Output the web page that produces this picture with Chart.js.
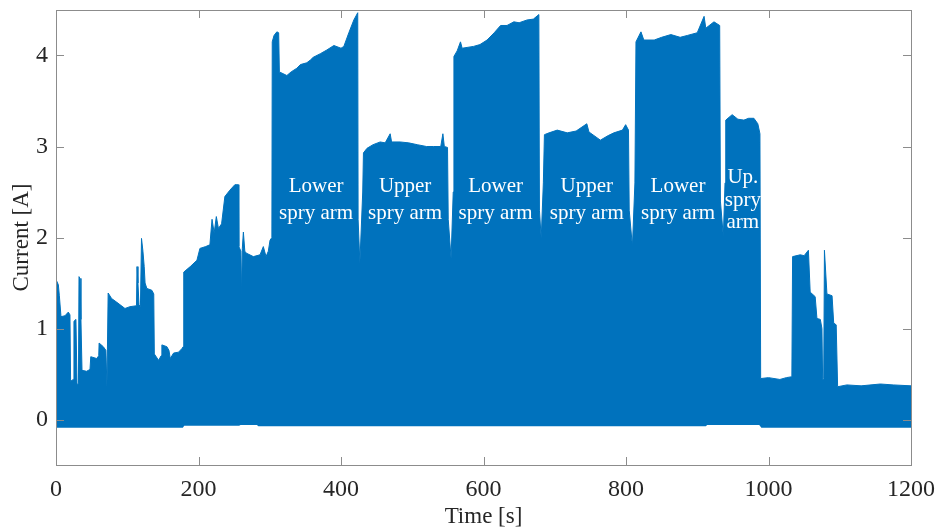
<!DOCTYPE html>
<html>
<head>
<meta charset="utf-8">
<script src="https://cdn.jsdelivr.net/npm/chart.js@4.4.1/dist/chart.umd.min.js"></script>
<style>
  html, body { margin: 0; padding: 0; background: #fff; }
  canvas { display: block; }
</style>
</head>
<body>
<canvas id="currentChart" width="937" height="531"></canvas>
<script>
// upper edge of the current trace, [time s, current A]
const upperEdge = [
  [0, 1.00], [0.5, 1.53], [3.3, 1.48], [4.7, 1.36], [7, 1.13], [12.6, 1.14], [17.3, 1.18], [19.6, 1.15],
  [20.5, 0.42], [24.3, 0.44], [25.2, 1.08], [28, 1.10], [29.5, 0.38], [31.5, 0.40], [32.3, 1.57], [33.7, 1.55],
  [35, 1.10], [36.5, 0.54], [43, 0.53], [47.7, 0.55], [48.8, 0.69], [57, 0.67], [60, 0.70], [60.5, 0.84],
  [66.4, 0.80], [70, 0.76], [71.5, 0.36], [73.2, 1.39], [78, 1.33], [85, 1.29], [96.8, 1.22], [103.8, 1.24],
  [113, 1.25], [113.7, 1.68], [115, 1.50], [116.5, 1.26], [118.5, 1.24], [120, 1.99], [122, 1.85], [123.8, 1.68],
  [125, 1.50], [127.5, 1.44], [134.5, 1.42], [137.2, 1.38], [138, 0.72], [144, 0.65], [147.5, 0.70], [148.6, 0.82],
  [155.6, 0.80], [158.5, 0.76], [160.4, 0.67], [165, 0.73], [172, 0.74], [176.8, 0.78], [178.5, 0.80], [179.3, 1.62],
  [188.4, 1.68], [197.8, 1.75], [202, 1.88], [210, 1.90], [216, 1.92], [219, 2.20], [222, 2.05], [225, 2.23],
  [228, 2.10], [232.4, 2.15], [237, 2.45], [244, 2.52], [251, 2.58], [256, 2.58], [256.6, 1.90], [259.5, 1.85],
  [260.5, 1.37], [261.5, 1.88], [263, 2.06], [265, 1.85], [266.7, 1.83], [277, 1.79], [286.4, 1.81], [291, 1.90],
  [294.8, 1.79], [298, 1.85], [300.4, 1.97], [303, 2.00], [303.5, 4.15], [306, 4.22], [310, 4.26], [312.5, 4.25],
  [313.5, 3.82], [324, 3.78], [330, 3.82], [338, 3.86], [343, 3.90], [352, 3.92], [357, 3.95], [361, 3.98],
  [371, 4.02], [380, 4.06], [390, 4.11], [400, 4.08], [404, 4.10], [411, 4.25], [418, 4.39], [423.5, 4.47],
  [424, 2.20], [426.5, 1.72], [430.5, 2.50], [431.5, 2.93], [436.5, 2.98], [445, 3.02], [455, 3.05], [462, 3.04],
  [469, 3.14], [471, 3.05], [483, 3.05], [495, 3.04], [507, 3.02], [520, 3.00], [530, 3.00], [540, 3.00],
  [543, 3.14], [545, 3.00], [549.5, 2.99], [550.5, 2.20], [554.5, 1.77], [557.5, 2.50], [558.5, 3.99], [563, 4.05],
  [567.7, 4.15], [570, 4.08], [586, 4.10], [595, 4.12], [605, 4.17], [615, 4.25], [624, 4.33], [633, 4.33],
  [642.6, 4.37], [650, 4.36], [661, 4.39], [670, 4.40], [677.7, 4.45], [678.5, 2.30], [681, 1.99], [684, 2.60],
  [685.5, 3.13], [692, 3.15], [703.5, 3.18], [717.6, 3.15], [730, 3.17], [745, 3.25], [748, 3.16], [764, 3.07],
  [775, 3.12], [783, 3.15], [795, 3.18], [799.5, 3.24], [803.5, 3.18], [804.5, 2.30], [809, 1.90], [812.5, 2.60],
  [814, 4.15], [821, 4.26], [825, 4.17], [839.6, 4.17], [850, 4.20], [863, 4.23], [876, 4.20], [886, 4.22],
  [900, 4.25], [909.6, 4.43], [912, 4.30], [923.5, 4.37], [931.5, 4.33], [932.5, 2.40], [936.6, 2.01], [939, 2.60],
  [940, 3.29], [949, 3.35], [957, 3.30], [965.5, 3.29], [972, 3.31], [979.5, 3.31], [985, 3.25], [988, 3.14],
  [989, 0.45], [1000, 0.46], [1016, 0.44], [1025, 0.46], [1032.8, 0.47], [1033.8, 1.79], [1044.6, 1.81], [1050, 1.80],
  [1056, 1.86], [1058.5, 1.40], [1065.5, 1.35], [1068, 1.11], [1072.7, 1.10], [1075, 1.00], [1076, 0.43], [1077.5, 0.45],
  [1078.5, 1.86], [1082, 1.38], [1089.2, 1.36], [1091.5, 1.06], [1095, 1.04], [1097, 0.36], [1110, 0.38], [1130, 0.37],
  [1157, 0.39], [1175, 0.38], [1200, 0.37]
];

// lower edge of the trace (just under zero)
const lowerEdge = [
  [0, -0.09], [178, -0.09], [180, -0.07], [257, -0.07], [259, -0.06], [282, -0.06], [284, -0.075],
  [912, -0.075], [914, -0.06], [987, -0.06], [990, -0.09], [1200, -0.09]
];

const xTicks = [0, 200, 400, 600, 800, 1000, 1200];
const yTicks = [0, 1, 2, 3, 4];

// phase labels: lines of text and where they sit (time, current)
const phaseLines = [
  ['Lower', 'spry arm'],
  ['Upper', 'spry arm'],
  ['Lower', 'spry arm'],
  ['Upper', 'spry arm'],
  ['Lower', 'spry arm'],
  ['Up.', 'spry', 'arm']
];
const phaseTime = [365, 490, 617, 745, 873, 964];
const phaseTop = [2.56, 2.56, 2.56, 2.56, 2.56, 2.66];
const phaseStep = [0.30, 0.30, 0.30, 0.30, 0.30, 0.25];

const serif = "'Liberation Serif', 'Times New Roman', serif";
const blue = '#0072BD';
const ink = '#262626';

const frame = {
  id: 'frame',
  afterDraw(chart) {
    const { ctx, chartArea: a, scales } = chart;
    ctx.save();
    ctx.strokeStyle = '#8c8c8c';
    ctx.lineWidth = 1;
    ctx.strokeRect(Math.round(a.left) + 0.5, Math.round(a.top) + 0.5,
      Math.round(a.right - a.left), Math.round(a.bottom - a.top));
    ctx.beginPath();
    xTicks.forEach(v => {
      const x = Math.round(scales.x.getPixelForValue(v)) + 0.5;
      ctx.moveTo(x, a.bottom); ctx.lineTo(x, a.bottom - 8);
      ctx.moveTo(x, a.top); ctx.lineTo(x, a.top + 8);
    });
    yTicks.forEach(v => {
      const y = Math.round(scales.y.getPixelForValue(v)) + 0.5;
      ctx.moveTo(a.left, y); ctx.lineTo(a.left + 8, y);
      ctx.moveTo(a.right, y); ctx.lineTo(a.right - 8, y);
    });
    ctx.stroke();

    // white phase labels
    ctx.fillStyle = '#fff';
    ctx.font = '21px ' + serif;
    ctx.textAlign = 'center';
    ctx.textBaseline = 'middle';
    phaseLines.forEach((lines, i) => {
      const x = scales.x.getPixelForValue(phaseTime[i]);
      lines.forEach((txt, j) => {
        const y = scales.y.getPixelForValue(phaseTop[i] - j * phaseStep[i]);
        ctx.fillText(txt, x, y);
      });
    });
    ctx.restore();
  }
};

new Chart(document.getElementById('currentChart').getContext('2d'), {
  type: 'line',
  data: {
    datasets: [
      {
        // white below the lower edge
        data: lowerEdge.map(p => ({ x: p[0], y: p[1] })),
        borderWidth: 0,
        borderColor: '#fff',
        backgroundColor: '#fff',
        pointRadius: 0,
        tension: 0,
        fill: 'start'
      },
      {
        label: 'Current',
        data: upperEdge.map(p => ({ x: p[0], y: p[1] })),
        borderWidth: 1,
        borderColor: blue,
        backgroundColor: blue,
        pointRadius: 0,
        tension: 0,
        fill: 'start'
      }
    ]
  },
  options: {
    responsive: false,
    animation: false,
    layout: { padding: { top: 10, right: 26, left: 0, bottom: 0 } },
    plugins: { legend: { display: false }, tooltip: { enabled: false } },
    scales: {
      x: {
        type: 'linear',
        min: 0,
        max: 1200,
        afterBuildTicks: s => { s.ticks = xTicks.map(v => ({ value: v })); },
        afterFit: s => { s.height = 66; s.paddingLeft = 0; s.paddingRight = 0; },
        grid: { display: false, drawTicks: false },
        border: { display: false },
        ticks: { color: ink, font: { family: serif, size: 24 }, padding: 10, maxRotation: 0,
          callback: v => String(v) },
        title: { display: true, text: 'Time [s]', color: ink, font: { family: serif, size: 23 }, padding: { top: 1, bottom: 0 } }
      },
      y: {
        type: 'linear',
        min: -0.5,
        max: 4.5,
        afterBuildTicks: s => { s.ticks = yTicks.map(v => ({ value: v })); },
        afterFit: s => { s.width = 56; s.paddingTop = 0; s.paddingBottom = 0; },
        grid: { display: false, drawTicks: false },
        border: { display: false },
        ticks: { color: ink, font: { family: serif, size: 24 }, padding: 8,
          callback: v => String(v) },
        title: { display: true, text: 'Current [A]', color: ink, font: { family: serif, size: 23 }, padding: { top: 8, bottom: 0 } }
      }
    }
  },
  plugins: [frame]
});
</script>
</body>
</html>
